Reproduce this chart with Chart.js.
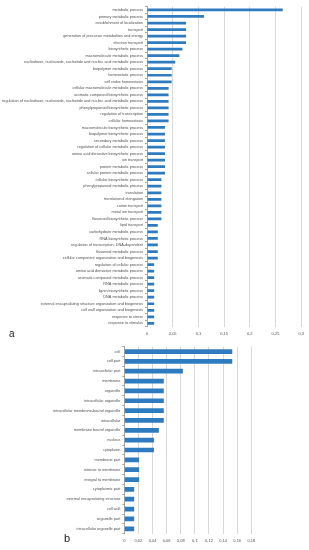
<!DOCTYPE html>
<html>
<head>
<meta charset="utf-8">
<script src="https://cdn.jsdelivr.net/npm/chart.js@4/dist/chart.umd.min.js"></script>
<style>
    body{ margin:0; background:#fff; width:309px; height:550px; position:relative; overflow:hidden; font-family:'Liberation Sans', Arial, sans-serif; }
    canvas{ position:absolute; left:0; }
    #chartA{ top:0; }
    #chartB{ top:340px; }
    .tag{ position:absolute; font-size:10px; color:#222; }
</style>
</head>
<body>
<canvas id="chartA" width="309" height="345"></canvas>
<canvas id="chartB" width="309" height="210"></canvas>
<div class="tag" style="left:9px; top:328px;">a</div>
<div class="tag" style="left:64px; top:532px; font-size:11px;">b</div>
<script>
// chart a - biological process
let categoriesA = ['metabolic process', 'primary metabolic process', 'establishment of localization', 'transport', 'generation of precursor metabolites and energy', 'electron transport', 'biosynthetic process', 'macromolecule metabolic process', 'nucleobase, nucleoside, nucleotide and nucleic acid metabolic process', 'biopolymer metabolic process', 'homeostatic process', 'cell redox homeostasis', 'cellular macromolecule metabolic process', 'aromatic compound biosynthetic process', 'regulation of nucleobase, nucleoside, nucleotide and nucleic acid metabolic process', 'phenylpropanoid biosynthetic process', 'regulation of transcription', 'cellular homeostasis', 'macromolecule biosynthetic process', 'biopolymer biosynthetic process', 'secondary metabolic process', 'regulation of cellular metabolic process', 'amino acid derivative biosynthetic process', 'ion transport', 'protein metabolic process', 'cellular protein metabolic process', 'cellular biosynthetic process', 'phenylpropanoid metabolic process', 'translation', 'translational elongation', 'cation transport', 'metal ion transport', 'flavonoid biosynthetic process', 'lipid transport', 'carbohydrate metabolic process', 'RNA biosynthetic process', 'regulation of transcription, DNA-dependent', 'flavonoid metabolic process', 'cellular component organization and biogenesis', 'regulation of cellular process', 'amino acid derivative metabolic process', 'aromatic compound metabolic process', 'RNA metabolic process', 'lignin biosynthetic process', 'DNA metabolic process', 'external encapsulating structure organization and biogenesis', 'cell wall organization and biogenesis', 'response to stress', 'response to stimulus'];
let valuesA = [0.264, 0.111, 0.076, 0.076, 0.076, 0.076, 0.069, 0.063, 0.055, 0.048, 0.048, 0.048, 0.042, 0.042, 0.042, 0.042, 0.042, 0.042, 0.035, 0.035, 0.035, 0.035, 0.035, 0.035, 0.035, 0.035, 0.028, 0.028, 0.028, 0.028, 0.028, 0.028, 0.028, 0.021, 0.021, 0.021, 0.021, 0.021, 0.021, 0.014, 0.014, 0.014, 0.014, 0.014, 0.014, 0.014, 0.014, 0.014, 0.014];
let tickValuesA = [0, 0.05, 0.1, 0.15, 0.2, 0.25, 0.3];
let tickLabelsA = ['0', '0,05', '0,1', '0,15', '0,2', '0,25', '0,3'];

// chart b - cellular component
let categoriesB = ['cell', 'cell part', 'intracellular part', 'membrane', 'organelle', 'intracellular organelle', 'intracellular membrane-bound organelle', 'intracellular', 'membrane bound organelle', 'nucleus', 'cytoplasm', 'membrane part', 'intrinsic to membrane', 'integral to membrane', 'cytoplasmic part', 'external encapsulating structure', 'cell wall', 'organelle part', 'intracellular organelle part'];
let valuesB = [0.153, 0.153, 0.083, 0.056, 0.056, 0.056, 0.056, 0.056, 0.049, 0.042, 0.042, 0.021, 0.021, 0.021, 0.014, 0.014, 0.014, 0.014, 0.014];
let tickValuesB = [0, 0.02, 0.04, 0.06, 0.08, 0.1, 0.12, 0.14, 0.16, 0.18];
let tickLabelsB = ['0', '0,02', '0,04', '0,06', '0,08', '0,1', '0,12', '0,14', '0,16', '0,18'];

let barColor = '#2f7bbf';
let labelColor = '#505050';
let fontFamily = "'Liberation Sans', Arial, sans-serif";

function makeChart(canvasId, labels, values, tickValues, tickLabels, axisWidth, axisHeight, padding, barPct){
    let ctx = document.getElementById(canvasId).getContext('2d');
    return new Chart(ctx, {
        type : 'bar',
        data : {
            labels : labels,
            datasets : [{
                data : values,
                backgroundColor : barColor,
                borderWidth : 0,
                barPercentage : barPct,
                categoryPercentage : 1
            }]
        },
        options : {
            indexAxis : 'y',
            responsive : false,
            animation : false,
            layout : { padding : padding },
            plugins : {
                legend : { display : false },
                tooltip : { enabled : false }
            },
            scales : {
                x : {
                    min : tickValues[0],
                    max : tickValues[tickValues.length - 1],
                    afterBuildTicks : (scale)=>{
                        scale.ticks = tickValues.map(v => ({ value : v }));
                    },
                    afterFit : (scale)=>{ scale.height = axisHeight; },
                    grid : { color : '#d9d9d9', lineWidth : 1, drawTicks : false },
                    border : { display : false },
                    ticks : {
                        padding : 5,
                        color : labelColor,
                        font : { family : fontFamily, size : 4 },
                        maxRotation : 0,
                        autoSkip : false,
                        callback : (value, index)=> tickLabels[index]
                    }
                },
                y : {
                    afterFit : (scale)=>{ scale.width = axisWidth; },
                    grid : { display : true, drawOnChartArea : false, drawTicks : true, tickLength : 2, color : '#a6a6a6' },
                    border : { display : true, color : '#a6a6a6' },
                    ticks : {
                        padding : 2,
                        color : labelColor,
                        font : { family : fontFamily, size : 3.8 },
                        autoSkip : false
                    }
                }
            }
        }
    });
}

let chartA = makeChart('chartA', categoriesA, valuesA, tickValuesA, tickLabelsA, 147, 18.4, { left : 0, right : 6, top : 6.7, bottom : 0 }, 0.42);
let chartB = makeChart('chartB', categoriesB, valuesB, tickValuesB, tickLabelsB, 124.3, 16.3, { left : 0, right : 57.7, top : 6.6, bottom : 0 }, 0.48);
</script>
</body>
</html>
